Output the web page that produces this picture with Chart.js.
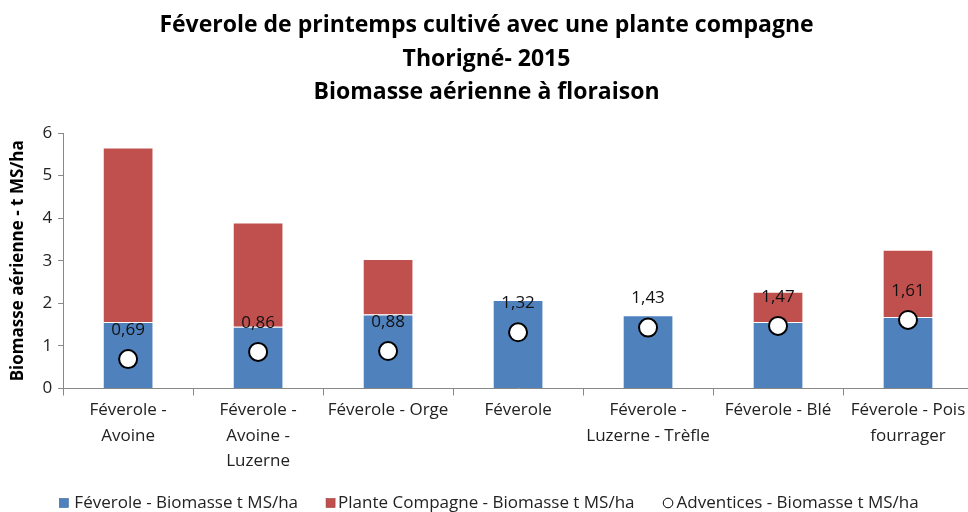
<!DOCTYPE html>
<html><head><meta charset="utf-8">
<script src="https://cdn.jsdelivr.net/npm/chart.js@4.4.1/dist/chart.umd.min.js"></script>
<style>html,body{margin:0;padding:0;overflow:hidden;background:#fff}#wrap{width:990px;height:512px;position:relative}</style>
</head><body><div id="wrap"><canvas id="c"></canvas></div>
<script>
const categories = [["Féverole -","Avoine"],["Féverole -","Avoine -","Luzerne"],"Féverole - Orge","Féverole",["Féverole -","Luzerne - Trèfle"],"Féverole - Blé",["Féverole - Pois","fourrager"]];
const feverole = [1.56,1.45,1.74,2.08,1.72,1.56,1.68];
const compagne = [4.10,2.45,1.30,0,0,0.71,1.58];
const adventices = [0.69,0.86,0.88,1.32,1.43,1.47,1.61];
const seriesNames = ["Féverole - Biomasse t MS/ha","Plante Compagne - Biomasse t MS/ha","Adventices - Biomasse t MS/ha"];
const titleLines = ["Féverole de printemps cultivé avec une plante compagne","Thorigné- 2015","Biomasse aérienne à floraison"];
const FONT = "'Open Sans',sans-serif";
const BLUE = '#4F81BD', RED = '#C0504D';

const labelPlugin = {
  id:'advLabels',
  afterDatasetsDraw(chart){
    const meta = chart.getDatasetMeta(2);
    const ctx = chart.ctx;
    ctx.save();
    ctx.font = "17px " + FONT;
    ctx.fillStyle = "#111";
    ctx.textAlign = "center";
    ctx.textBaseline = "middle";
    meta.data.forEach((pt,i)=>{
      ctx.fillText(adventices[i].toFixed(2).replace('.',','), pt.x, pt.y-29);
    });
    ctx.restore();
  }
};

const legendPlugin = {
  id:'customLegend',
  afterDraw(chart){
    const ctx = chart.ctx;
    ctx.save();
    ctx.font = "17px " + FONT;
    ctx.textBaseline = "middle";
    ctx.textAlign = "left";
    const y = 503;
    const gaps = [6,3,3];
    const markW = [9,9,11];
    const between = 28;
    const widths = seriesNames.map((s,i)=>markW[i]+gaps[i]+ctx.measureText(s).width);
    const total = widths.reduce((a,b)=>a+b,0) + between*2;
    let x = chart.width/2 - 6 - total/2;
    seriesNames.forEach((s,i)=>{
      if(i<2){
        ctx.fillStyle = i===0?BLUE:RED;
        ctx.fillRect(x, y-4.5, 9, 9);
        ctx.strokeStyle = i===0?'#3A6596':'#9C3B38';
        ctx.lineWidth = 0.6;
        ctx.strokeRect(x, y-4.5, 9, 9);
      } else {
        ctx.beginPath();
        ctx.arc(x+5.5, y, 4.8, 0, Math.PI*2);
        ctx.fillStyle='#fff'; ctx.fill();
        ctx.strokeStyle='#000'; ctx.lineWidth=1; ctx.stroke();
      }
      ctx.fillStyle = '#222';
      ctx.fillText(s, x+markW[i]+gaps[i], y);
      x += widths[i] + between;
    });
    ctx.restore();
  }
};

new Chart(document.getElementById('c'),{
  data:{
    labels:categories,
    datasets:[
      {type:'bar',label:seriesNames[0],data:feverole,backgroundColor:BLUE,borderColor:'#ffffff',borderWidth:1,stack:'s',order:2},
      {type:'bar',label:seriesNames[1],data:compagne,backgroundColor:RED,borderColor:'#ffffff',borderWidth:1,stack:'s',order:2},
      {type:'line',label:seriesNames[2],data:adventices,showLine:false,stack:'adv',pointStyle:'circle',pointRadius:9,pointHoverRadius:9,pointBackgroundColor:'#fff',pointBorderColor:'#000',pointBorderWidth:2,backgroundColor:'#fff',borderColor:'#000',borderWidth:1,order:1}
    ]
  },
  options:{
    responsive:true,maintainAspectRatio:false,animation:false,
    datasets:{bar:{categoryPercentage:1,barPercentage:0.39}},
    layout:{padding:{left:0,right:17,top:9,bottom:36}},
    plugins:{
      title:{display:true,text:titleLines,color:'#000',font:{family:FONT,size:23,weight:'bold',lineHeight:1.45},padding:{top:0,bottom:24}},
      legend:{display:false},
      tooltip:{enabled:false}
    },
    scales:{
      x:{stacked:true,offset:true,grid:{display:true,drawOnChartArea:false,offset:true,color:'#888',tickLength:7},border:{color:'#888'},ticks:{color:'#222',font:{family:FONT,size:17,lineHeight:1.5},maxRotation:0,autoSkip:false,padding:2}},
      y:{stacked:true,min:0,max:6,grid:{drawOnChartArea:false,color:'#888',tickLength:5},border:{color:'#888'},ticks:{stepSize:1,color:'#222',font:{family:FONT,size:17},padding:6},
         title:{display:true,text:'Biomasse aérienne - t MS/ha',color:'#000',font:{family:FONT,size:17,weight:'bold'},padding:{top:8,bottom:8}}}
    }
  },
  plugins:[labelPlugin,legendPlugin]
});
</script></body></html>
